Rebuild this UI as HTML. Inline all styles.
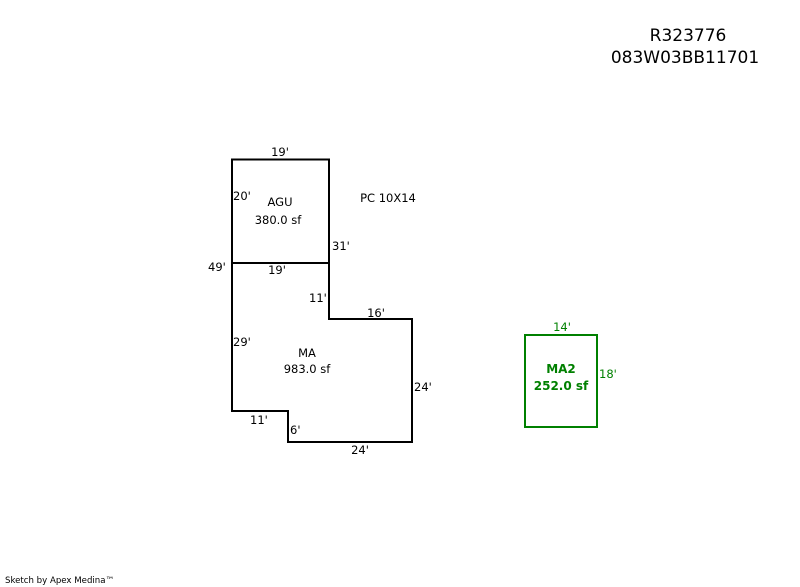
<!DOCTYPE html>
<html><head><meta charset="utf-8"><style>
html,body{margin:0;padding:0;background:#fff;}
svg{display:block;}
text{font-family:"DejaVu Sans","Liberation Sans",sans-serif;font-size:11.5px;fill:#000;}
</style></head><body>
<svg width="800" height="587" viewBox="0 0 800 587" xmlns="http://www.w3.org/2000/svg">
<text x="688" y="41" text-anchor="middle" style="font-size:17px">R323776</text>
<text x="685" y="63" text-anchor="middle" style="font-size:17px">083W03BB11701</text>
<g fill="none" stroke="#000" stroke-width="2">
<rect x="232" y="159.5" width="97" height="103.5"/>
<polyline points="232,263 232,411 288,411 288,442 412,442 412,319 329,319 329,263"/>
</g>
<text x="280" y="156" text-anchor="middle">19'</text>
<text x="233" y="200">20'</text>
<text x="280" y="206" text-anchor="middle">AGU</text>
<text x="278" y="224" text-anchor="middle">380.0 sf</text>
<text x="388" y="202" text-anchor="middle">PC 10X14</text>
<text x="332" y="250">31'</text>
<text x="208" y="271">49'</text>
<text x="277" y="274" text-anchor="middle">19'</text>
<text x="309" y="302">11'</text>
<text x="376" y="317" text-anchor="middle">16'</text>
<text x="233" y="346">29'</text>
<text x="307" y="357" text-anchor="middle">MA</text>
<text x="307" y="373" text-anchor="middle">983.0 sf</text>
<text x="414" y="391">24'</text>
<text x="250" y="424">11'</text>
<text x="290" y="434">6'</text>
<text x="360" y="454" text-anchor="middle">24'</text>
<rect x="525" y="335" width="72" height="92" fill="none" stroke="#008000" stroke-width="2"/>
<text x="562" y="331" text-anchor="middle" style="fill:#008000">14'</text>
<text x="599" y="378" style="fill:#008000">18'</text>
<text x="561" y="373" text-anchor="middle" style="fill:#008000;font-weight:bold;font-size:12px">MA2</text>
<text x="561" y="390" text-anchor="middle" style="fill:#008000;font-weight:bold;font-size:12px">252.0 sf</text>
<text x="5" y="583" style="font-size:8.6px">Sketch by Apex Medina™</text>
</svg>
</body></html>
